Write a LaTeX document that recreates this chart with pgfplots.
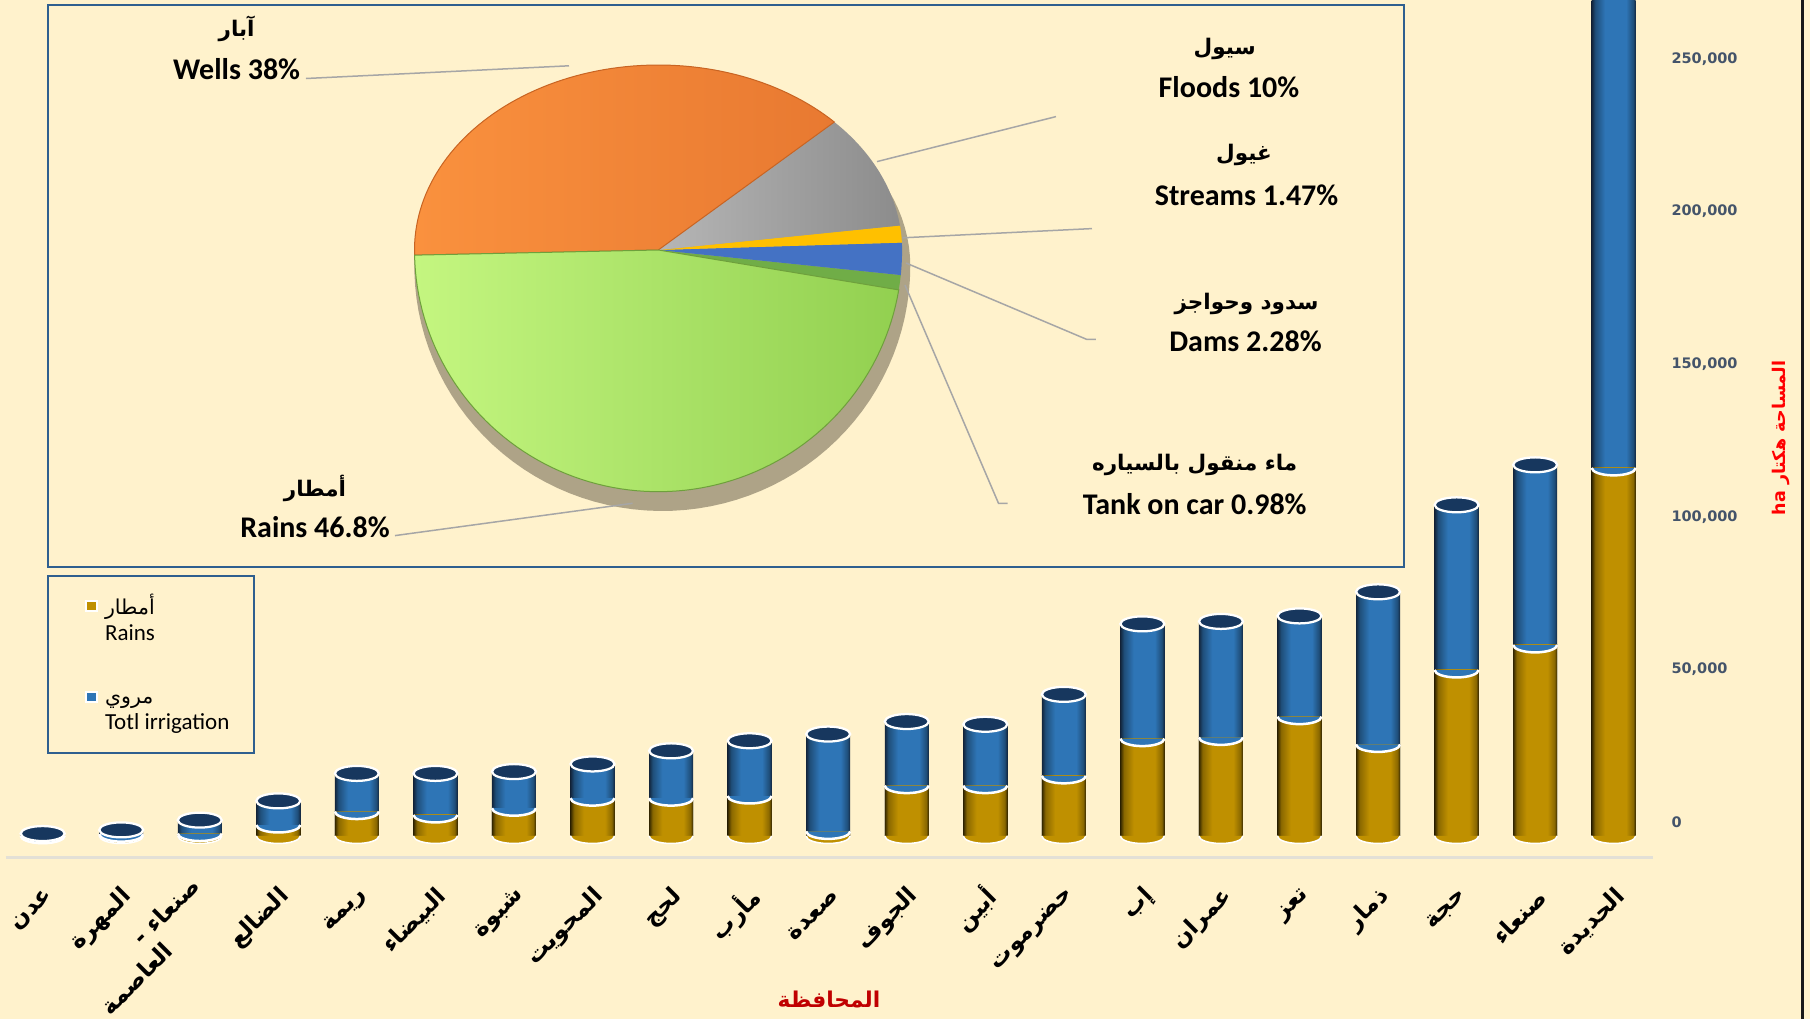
\documentclass[border=0pt]{standalone}
\usepackage{fontspec}
\usepackage{pgfplots}
\usepackage{pgfplotstable}
\pgfplotsset{compat=1.18}
\setmainfont{Carlito}
\newfontfamily\arfont[Script=Arabic]{DejaVu Sans}
\newfontfamily\dvfont{DejaVu Sans}
\TeXXeTstate=1

\definecolor{cream}{HTML}{FFF2CC}
\definecolor{boxblue}{HTML}{2F5F8F}
\definecolor{goldmain}{HTML}{BF9000}
\definecolor{goldm}{HTML}{8A6800}
\definecolor{golde}{HTML}{342700}
\definecolor{bluemain}{HTML}{2E75B6}
\definecolor{bluem}{HTML}{1F4E79}
\definecolor{bluee}{HTML}{13263D}
\definecolor{capnavy}{HTML}{17375E}
\definecolor{ticklab}{HTML}{44546A}
\definecolor{floorgray}{HTML}{E3E0D6}
\definecolor{darkred}{HTML}{C00000}
\definecolor{leader}{HTML}{A6A6A6}
\definecolor{shadowc}{HTML}{A0967B}

\pgfdeclarehorizontalshading{goldcyl}{100bp}{color(0bp)=(golde); color(25bp)=(golde); color(29bp)=(goldm); color(40bp)=(goldmain); color(64bp)=(goldmain); color(72bp)=(goldm); color(75bp)=(golde); color(100bp)=(golde)}
\pgfdeclarehorizontalshading{bluecyl}{100bp}{color(0bp)=(bluee); color(25bp)=(bluee); color(29bp)=(bluem); color(40bp)=(bluemain); color(64bp)=(bluemain); color(72bp)=(bluem); color(75bp)=(bluee); color(100bp)=(bluee)}

\pgfdeclareplotmark{ellcap}{%
  \pgfpathellipse{\pgfpointorigin}{\pgfqpoint{\pgfplotmarksize}{0pt}}{\pgfqpoint{0pt}{0.34\pgfplotmarksize}}%
  \pgfusepathqfillstroke}
\pgfdeclareplotmark{halfell}{%
  \pgfpathmoveto{\pgfqpoint{-\pgfplotmarksize}{0pt}}%
  \pgfpatharc{180}{360}{\pgfplotmarksize and 0.34\pgfplotmarksize}%
  \pgfpathclose
  \pgfusepathqfill
  \pgfpathmoveto{\pgfqpoint{-\pgfplotmarksize}{0pt}}%
  \pgfpatharc{180}{360}{\pgfplotmarksize and 0.34\pgfplotmarksize}%
  \pgfusepathqstroke}

\pgfplotstableread{
idx rains irr
0 100 700
1 600 1400
2 800 4400
3 3600 7900
4 8000 12500
5 6900 13600
6 9100 12000
7 12400 11200
8 12400 15500
9 13100 18100
10 1500 31900
11 16500 21000
12 16500 20100
13 19700 26700
14 31900 37600
15 32300 38000
16 39100 33000
17 30000 50000
18 54400 54100
19 62600 59000
20 120600 180000
}\govdata

\newcommand\lblEN{\bfseries\fontsize{12}{14}\selectfont}
\newcommand\lblAR{\arfont\bfseries\fontsize{8.6}{10}\selectfont}

\begin{document}
\begin{tikzpicture}[x=1pt,y=1pt]
\useasboundingbox (0,0) rectangle (724,407.6);
\fill[cream] (0,0) rectangle (724,407.6);
\draw[line width=1.2pt, black!90] (720.8,0) -- (720.8,407.6);
% legend frame
\draw[boxblue, line width=0.6pt] (19.2,106.4) rectangle (101.6,177.2);

% ---------------- bar chart ----------------
\begin{axis}[
  at={(2.4pt,64.56pt)}, anchor=south west, scale only axis,
  width=658.8pt, height=343.04pt,
  xmin=-0.467, xmax=20.5, ymin=-7080, ymax=273900,
  axis x line*=bottom, axis y line*=right,
  x axis line style={draw=floorgray, line width=1.2pt},
  y axis line style={draw=none},
  major tick length=0pt,
  xtick={0,...,20},
  xticklabels={
    {\mbox{\beginR عدن\endR}},
    {\mbox{\beginR المهرة\endR}},
    {\mbox{\begin{tabular}{@{}r@{}}\mbox{\beginR صنعاء -\endR}\\\mbox{\beginR العاصمة\endR}\kern26pt\end{tabular}}},
    {\mbox{\beginR الضالع\endR}},
    {\mbox{\beginR ريمة\endR}},
    {\mbox{\beginR البيضاء\endR}},
    {\mbox{\beginR شبوة\endR}},
    {\mbox{\beginR المحويت\endR}},
    {\mbox{\beginR لحج\endR}},
    {\mbox{\beginR مأرب\endR}},
    {\mbox{\beginR صعدة\endR}},
    {\mbox{\beginR الجوف\endR}},
    {\mbox{\beginR أبين\endR}},
    {\mbox{\beginR حضرموت\endR}},
    {\mbox{\beginR إب\endR}},
    {\mbox{\beginR عمران\endR}},
    {\mbox{\beginR تعز\endR}},
    {\mbox{\beginR ذمار\endR}},
    {\mbox{\beginR حجة\endR}},
    {\mbox{\beginR صنعاء\endR}},
    {\mbox{\beginR الحديدة\endR}}},
  xticklabel style={font=\arfont\bfseries\fontsize{9.3}{11}\selectfont, inner sep=0pt, xshift=3pt, yshift=-14pt, rotate=45, anchor=east},
  ytick={0,50000,100000,150000,200000,250000},
  yticklabels={0,{50,000},{100,000},{150,000},{200,000},{250,000}},
  yticklabel style={font=\dvfont\bfseries\fontsize{5.8}{7}\selectfont, text=ticklab, anchor=west, inner sep=0pt, xshift=7.2pt, yshift=5.6pt},
  legend style={at={(rel axis cs:0.0477,0.314)}, anchor=north west, draw=none, fill=none,
    font=\fontsize{9.2}{10.4}\selectfont, inner xsep=0pt, inner ysep=0pt, row sep=18pt, column sep=1pt},
  legend cell align=left,
]
\pgfplotsinvokeforeach{0,...,20}{
\addplot[ybar, bar width=17.6pt, bar shift=0pt, draw=none, shade, shading=bluecyl, forget plot, restrict x to domain=#1:#1]
  table[x=idx, y expr=\thisrow{rains}+\thisrow{irr}] {\govdata};
\addplot[ybar, bar width=17.6pt, bar shift=0pt, draw=none, shade, shading=goldcyl, forget plot, restrict x to domain=#1:#1]
  table[x=idx, y=rains] {\govdata};
}
\addplot[only marks, mark=halfell, mark size=8.8pt, mark options={fill=goldmain, draw=white, line width=0.6pt}, forget plot]
  table[x=idx, y expr=0] {\govdata};
\addplot[only marks, mark=halfell, mark size=8.8pt, mark options={fill=bluemain, draw=white, line width=1pt}, forget plot]
  table[x=idx, y=rains] {\govdata};
\addplot[only marks, mark=ellcap, mark size=8.8pt, mark options={fill=capnavy, draw=white, line width=0.9pt}, forget plot]
  table[x=idx, y expr=\thisrow{rains}+\thisrow{irr}] {\govdata};
\addlegendimage{legend image code/.code={\fill[goldmain, draw=white, line width=0.8pt] (-2.1pt,0.3pt) rectangle (2.1pt,4.5pt);}}
\addlegendentry{\begin{tabular}{@{}l@{}}{\arfont\fontsize{8.2}{10.4}\selectfont\mbox{\beginR أمطار\endR}}\\Rains\end{tabular}}
\addlegendimage{legend image code/.code={\fill[bluemain, draw=white, line width=0.8pt] (-2.1pt,0.3pt) rectangle (2.1pt,4.5pt);}}
\addlegendentry{\begin{tabular}{@{}l@{}}{\arfont\fontsize{8.2}{10.4}\selectfont\mbox{\beginR مروي\endR}}\\Totl irrigation\end{tabular}}
\end{axis}

\node[rotate=90, text=red, font=\arfont\bfseries\fontsize{7}{8}\selectfont] at (712.4,232.4) {\beginR المساحة هكتار \beginL ha\endL\endR};
\node[text=darkred, font=\arfont\bfseries\fontsize{8.7}{10}\selectfont] at (331.6,7.8) {\beginR المحافظة\endR};

% ---------------- pie chart ----------------
\pgfmathsetmacro\kk{360/99.53}
\pgfmathsetmacro\aA{-9.5}
\pgfmathsetmacro\aB{\aA+0.98*\kk}
\pgfmathsetmacro\aC{\aB+2.28*\kk}
\pgfmathsetmacro\aD{\aC+1.47*\kk}
\pgfmathsetmacro\aE{\aD+10*\kk}
\pgfmathsetmacro\aF{\aE+38*\kk}
\pgfmathsetmacro\aG{\aF+46.8*\kk}
\begin{axis}[
  at={(19.2pt,180.8pt)}, anchor=south west, scale only axis,
  width=542.4pt, height=224.8pt,
  xmin=-610.3, xmax=745.7, ymin=-317, ymax=245,
  xtick=\empty, ytick=\empty,
  axis line style={draw=boxblue, line width=0.6pt},
  axis background/.style={fill=cream},
  clip=false,
]
% shadow
\addplot[fill=shadowc, draw=none, opacity=0.85, domain=0:360, samples=120]
  ({4+248*cos(x)}, {-16+sin(x)*(sin(x)>0 ? 185 : 245)});
% slices: tank, dams, streams, floods, wells, rains
\addplot[fill={rgb,255:red,112;green,173;blue,71}, draw=none, domain=\aA:\aB, samples=10]
  ({243.8*cos(x)}, {sin(x)*(sin(x)>0 ? 185 : 241.7)}) -- (axis cs:0,0) -- cycle;
\addplot[fill={rgb,255:red,68;green,114;blue,196}, draw=none, domain=\aB:\aC, samples=10]
  ({243.8*cos(x)}, {sin(x)*(sin(x)>0 ? 185 : 241.7)}) -- (axis cs:0,0) -- cycle;
\addplot[fill={rgb,255:red,255;green,192;blue,0}, draw=none, domain=\aC:\aD, samples=10]
  ({243.8*cos(x)}, {sin(x)*(sin(x)>0 ? 185 : 241.7)}) -- (axis cs:0,0) -- cycle;
\addplot[left color={rgb,255:red,182;green,182;blue,182}, right color={rgb,255:red,140;green,140;blue,140}, draw=none, domain=\aD:\aE, samples=30]
  ({243.8*cos(x)}, {sin(x)*(sin(x)>0 ? 185 : 241.7)}) -- (axis cs:0,0) -- cycle;
\addplot[left color={rgb,255:red,250;green,145;blue,62}, right color={rgb,255:red,232;green,121;blue,49}, draw={rgb,255:red,200;green,100;blue,35}, line width=0.4pt, domain=\aE:\aF, samples=80]
  ({243.8*cos(x)}, {sin(x)*(sin(x)>0 ? 185 : 241.7)}) -- (axis cs:0,0) -- cycle;
\addplot[left color={rgb,255:red,196;green,246;blue,128}, right color={rgb,255:red,146;green,208;blue,80}, draw={rgb,255:red,110;green,160;blue,60}, line width=0.4pt, domain=\aF:\aG, samples=90]
  ({243.8*cos(x)}, {sin(x)*(sin(x)>0 ? 185 : 241.7)}) -- (axis cs:0,0) -- cycle;

% leader lines
\draw[leader, line width=0.6pt] (axis cs:-352.3,171.5) -- (axis cs:-89.3,184.2);
\draw[leader, line width=0.6pt] (axis cs:218.7,88.4) -- (axis cs:397.7,133.4);
\draw[leader, line width=0.6pt] (axis cs:244.4,12.2) -- (axis cs:433.7,21.4);
\draw[leader, line width=0.6pt] (axis cs:247.7,-13) -- (axis cs:428.7,-89.5) -- (axis cs:437.7,-89.5);
\draw[leader, line width=0.6pt] (axis cs:246.7,-35) -- (axis cs:340.2,-253.3) -- (axis cs:349.4,-253.3);
\draw[leader, line width=0.6pt] (axis cs:-263.3,-285.6) -- (axis cs:-25.7,-253.3);

% labels
\node[font=\lblAR] at (axis cs:-421.7,221.1) {\beginR آبار\endR};
\node[font=\lblEN] at (axis cs:-421.7,180.7) {Wells 38\%};
\node[font=\lblAR] at (axis cs:566.4,201.5) {\beginR سيول\endR};
\node[font=\lblEN] at (axis cs:570.7,163.4) {Floods 10\%};
\node[font=\lblAR] at (axis cs:585.7,95.3) {\beginR غيول\endR};
\node[font=\lblEN] at (axis cs:588.3,55) {Streams 1.47\%};
\node[font=\lblAR] at (axis cs:588.3,-53.6) {\beginR سدود وحواجز\endR};
\node[font=\lblEN] at (axis cs:587.2,-91.7) {Dams 2.28\%};
\node[font=\lblAR] at (axis cs:536.4,-215) {\beginR ماء منقول بالسياره\endR};
\node[font=\lblEN] at (axis cs:536.4,-254.4) {Tank on car 0.98\%};
\node[font=\lblAR] at (axis cs:-343.3,-238) {\beginR أمطار\endR};
\node[font=\lblEN] at (axis cs:-343.3,-277.5) {Rains 46.8\%};
\end{axis}
\end{tikzpicture}
\end{document}
